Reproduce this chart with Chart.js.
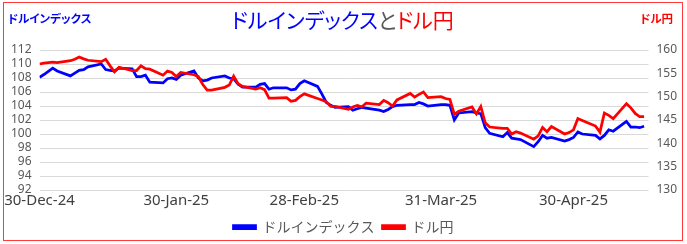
<!DOCTYPE html>
<html>
<head>
<meta charset="utf-8">
<script src="https://cdn.jsdelivr.net/npm/chart.js@4/dist/chart.umd.min.js"></script>
<style>
  body { margin: 0; background: #fff; }
  #wrap { position: relative; width: 687px; height: 244px; }
  #frame { position: absolute; left: 3px; top: 2px; width: 680px; height: 239px; border: 1px solid #ff3b3b; box-sizing: border-box; }
  canvas { position: absolute; left: 0; top: 0; }
  .txt { position: absolute; font-family: "Noto Sans CJK JP", sans-serif; white-space: nowrap; font-feature-settings: "palt"; }
  #title { left: 0; width: 685px; top: 4px; text-align: center; font-size: 21px; }
  #lname { left: 8px; top: 10px; font-size: 11.5px; color: #0000ff; font-weight: bold; }
  #rname { right: 14px; top: 10px; font-size: 11.5px; color: #ff0000; font-weight: bold; }
</style>
</head>
<body>
<div id="wrap">
  <canvas id="chart" width="687" height="244"></canvas>
  <div id="frame"></div>
  <div class="txt" id="title"><span style="color:#0000ff">ドルインデックス</span><span style="color:#595959">と</span><span style="color:#ff0000">ドル円</span></div>
  <div class="txt" id="lname">ドルインデックス</div>
  <div class="txt" id="rname">ドル円</div>
</div>
<script>
// trading days, as days since 30-Dec-24
const dayOffsets = [0, 1, 3, 4, 7, 8, 9, 10, 11, 14, 15, 16, 17, 18, 21, 22, 23, 24, 25, 28, 29, 30, 31, 32,
  35, 36, 37, 38, 39, 42, 43, 44, 45, 46, 49, 50, 51, 52, 53, 56, 57, 58, 59, 60,
  63, 64, 65, 66, 67, 70, 71, 72, 73, 74, 77, 78, 79, 80, 81, 84, 85, 86, 87, 88, 91,
  92, 93, 94, 95, 98, 99, 100, 101, 102, 105, 106, 107, 108, 109, 112, 113, 114, 115, 116, 119, 120, 121,
  122, 123, 126, 127, 128, 129, 130, 133, 134, 135, 136, 137];

const dollarIndex = [108.1, 108.5,
  109.4, 109.0, 108.3, 108.7, 109.1, 109.2, 109.6, 110.0, 109.2, 109.1, 109.0, 109.4, 109.3, 108.2, 108.2, 108.4, 107.4, 107.3, 107.9, 108.0, 107.8, 108.4,
  109.0, 108.0, 107.6, 107.7, 108.0, 108.3, 108.0, 107.9, 107.1, 106.7, 106.7, 107.1, 107.2, 106.4, 106.6, 106.6, 106.3, 106.4, 107.2, 107.6,
  106.8, 105.7, 104.5, 104.1, 103.8, 103.9, 103.4, 103.6, 103.8, 103.7, 103.4, 103.2, 103.5, 103.9, 104.1, 104.2, 104.2, 104.5, 104.3, 104.0, 104.2,
  104.2, 104.1, 102.0, 103.0, 103.2, 103.0, 102.9, 100.9, 100.1, 99.6, 100.2, 99.4, 99.3, 99.2, 98.2, 98.9, 99.8, 99.4, 99.5, 99.0, 99.2, 99.5,
  100.3, 100.0, 99.8, 99.3, 99.8, 100.6, 100.4, 101.8, 101.0, 101.0, 100.9, 101.1];

const usdJpy = [157.0, 157.2,
  157.4, 157.3, 157.7, 158.0, 158.5, 158.1, 157.8, 157.5, 158.0, 156.6, 155.3, 156.3, 155.6, 155.6, 156.6, 156.0, 155.9, 154.6, 155.5, 155.2, 154.3, 155.2,
  154.7, 154.3, 152.6, 151.4, 151.4, 152.0, 152.5, 154.4, 152.8, 152.2, 151.6, 151.9, 151.5, 149.7, 149.7, 149.8, 149.0, 149.2, 150.0, 150.6,
  149.6, 149.3, 148.9, 147.9, 147.9, 147.3, 147.8, 148.1, 147.8, 148.6, 148.3, 149.2, 148.7, 148.0, 149.3, 150.7, 149.9, 150.5, 151.0, 149.8, 150.0,
  149.6, 149.4, 146.2, 146.9, 147.8, 146.3, 147.9, 144.4, 143.5, 143.2, 143.2, 142.0, 142.5, 142.2, 140.9, 141.6, 143.4, 142.5, 143.6, 142.0, 142.3, 142.9,
  145.3, 144.9, 143.7, 142.4, 146.5, 146.0, 145.3, 148.5, 147.6, 146.4, 145.7, 145.7];

const tickDays = [0, 31, 60, 91, 121];
const tickLabels = ['30-Dec-24', '30-Jan-25', '28-Feb-25', '31-Mar-25', '30-Apr-25'];

const gray = '#595959';
const numFont = { family: '"Noto Sans", sans-serif', size: 12, lineHeight: 1 };

new Chart(document.getElementById('chart'), {
  type: 'line',
  data: {
    datasets: [{
      label: 'ドルインデックス',
      data: dayOffsets.map((d, i) => ({ x: d, y: dollarIndex[i] })),
      borderColor: '#0000ff',
      backgroundColor: '#0000ff',
      borderWidth: 2.75,
      pointRadius: 0,
      tension: 0,
      yAxisID: 'y',
      order: 2
    }, {
      label: 'ドル円',
      data: dayOffsets.map((d, i) => ({ x: d, y: usdJpy[i] })),
      borderColor: '#ff0000',
      backgroundColor: '#ff0000',
      borderWidth: 2.75,
      pointRadius: 0,
      tension: 0,
      yAxisID: 'y1',
      order: 1
    }]
  },
  options: {
    responsive: false,
    animation: false,
    layout: { padding: { top: 50, left: 0, right: 0, bottom: 0 } },
    plugins: {
      tooltip: { enabled: false },
      legend: {
        position: 'bottom',
        labels: {
          boxWidth: 22,
          boxHeight: 3,
          padding: 8,
          color: gray,
          font: { family: '"Noto Sans CJK JP", sans-serif', size: 14 },
          sort: (a, b) => a.datasetIndex - b.datasetIndex
        }
      }
    },
    scales: {
      x: {
        type: 'linear',
        min: 0,
        max: 138,
        grid: { display: false, drawTicks: false },
        border: { display: false },
        afterBuildTicks: s => { s.ticks = tickDays.map(v => ({ value: v })); },
        ticks: {
          autoSkip: false,
          maxRotation: 0,
          padding: 2,
          color: '#404040',
          font: { family: '"Noto Sans", sans-serif', size: 15 },
          callback: v => tickLabels[tickDays.indexOf(v)]
        }
      },
      y: {
        position: 'left',
        min: 92,
        max: 112,
        afterFit: s => { s.width = 39.5; },
        grid: { color: '#d9d9d9', drawTicks: false },
        border: { display: false },
        ticks: { stepSize: 2, autoSkip: false, padding: 8, color: gray, font: numFont }
      },
      y1: {
        position: 'right',
        min: 130,
        max: 160,
        afterFit: s => { s.width = 38.5; },
        grid: { display: false, drawTicks: false },
        border: { display: false },
        ticks: { stepSize: 5, autoSkip: false, padding: 8, color: gray, font: numFont }
      }
    }
  }
});
</script>
</body>
</html>
